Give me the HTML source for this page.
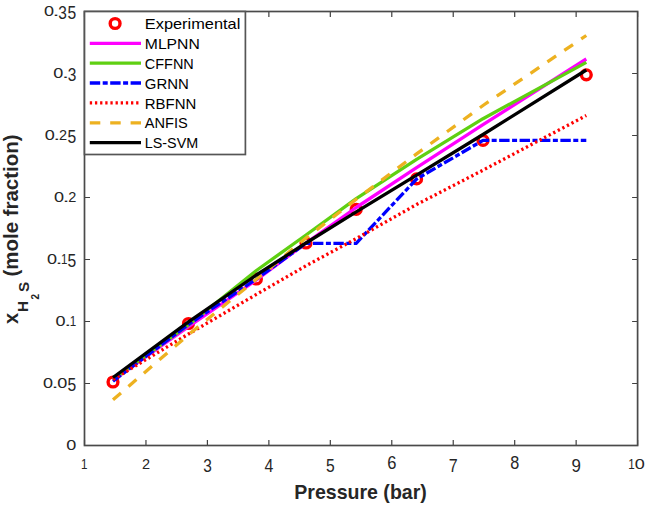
<!DOCTYPE html><html><head><meta charset="utf-8"><style>html,body{margin:0;padding:0;background:#fff;width:646px;height:505px;overflow:hidden}svg{display:block}text{font-family:"Liberation Sans",sans-serif}</style></head><body>
<svg width="646" height="505" viewBox="0 0 646 505">
<rect width="646" height="505" fill="#fff"/>
<circle cx="113.0" cy="382.0" r="4.9" fill="none" stroke="#FF0000" stroke-width="3.4"/><circle cx="188.5" cy="323.5" r="4.9" fill="none" stroke="#FF0000" stroke-width="3.4"/><circle cx="256.4" cy="279.0" r="4.9" fill="none" stroke="#FF0000" stroke-width="3.4"/><circle cx="306.0" cy="243.0" r="4.9" fill="none" stroke="#FF0000" stroke-width="3.4"/><circle cx="356.2" cy="209.4" r="4.9" fill="none" stroke="#FF0000" stroke-width="3.4"/><circle cx="416.6" cy="178.9" r="4.9" fill="none" stroke="#FF0000" stroke-width="3.4"/><circle cx="483.0" cy="140.4" r="4.9" fill="none" stroke="#FF0000" stroke-width="3.4"/><circle cx="586.3" cy="74.8" r="4.9" fill="none" stroke="#FF0000" stroke-width="3.4"/>
<polyline points="113.0,380.0 188.5,326.7 256.4,280.0 306.0,243.0 356.2,207.5 416.6,167.6 483.0,124.7 586.3,59.0" fill="none" stroke="#FF00FF" stroke-width="3.3" stroke-linejoin="round"/>
<polyline points="113.0,379.5 188.5,325.0 256.4,270.5 306.0,235.0 356.2,198.6 416.6,159.3 483.0,118.7 586.3,62.4" fill="none" stroke="#5FD012" stroke-width="3.3" stroke-linejoin="round"/>
<polyline points="113.0,381.2 188.5,324.4 256.4,279.0 306.0,243.3 356.2,243.3 416.6,179.0 483.0,140.4 586.3,140.4" fill="none" stroke="#0000FF" stroke-width="3.3" stroke-linejoin="round" stroke-dasharray="10.4 2.5 5 2.5" stroke-dashoffset="0.53"/>
<polyline points="113.0,379.5 188.5,334.0 256.4,294.4 306.0,265.8 356.2,238.6 416.6,204.5 483.0,170.2 586.3,115.5" fill="none" stroke="#FF0000" stroke-width="3.3" stroke-linejoin="round" stroke-dasharray="2.3 2.85"/>
<polyline points="113.0,399.8 188.5,334.7 256.4,279.3 306.0,238.0 356.2,199.3 416.6,153.9 483.0,105.5 586.3,35.5" fill="none" stroke="#EDB120" stroke-width="3.3" stroke-linejoin="round" stroke-dasharray="10.5 9.9"/>
<polyline points="113.0,377.5 188.5,321.8 256.4,275.0 306.0,243.0 356.2,211.8 416.6,175.2 483.0,134.5 586.3,70.0" fill="none" stroke="#000000" stroke-width="3.3" stroke-linejoin="round"/>
<path d="M84.50 445.5V440.0M84.50 11.5V17.0M145.96 445.5V440.0M145.96 11.5V17.0M207.41 445.5V440.0M207.41 11.5V17.0M268.87 445.5V440.0M268.87 11.5V17.0M330.32 445.5V440.0M330.32 11.5V17.0M391.78 445.5V440.0M391.78 11.5V17.0M453.23 445.5V440.0M453.23 11.5V17.0M514.69 445.5V440.0M514.69 11.5V17.0M576.14 445.5V440.0M576.14 11.5V17.0M637.60 445.5V440.0M637.60 11.5V17.0M84.5 445.50H90.0M637.6 445.50H632.1M84.5 383.50H90.0M637.6 383.50H632.1M84.5 321.50H90.0M637.6 321.50H632.1M84.5 259.50H90.0M637.6 259.50H632.1M84.5 197.50H90.0M637.6 197.50H632.1M84.5 135.50H90.0M637.6 135.50H632.1M84.5 73.50H90.0M637.6 73.50H632.1M84.5 11.50H90.0M637.6 11.50H632.1" stroke="#404040" stroke-width="1.2" fill="none"/>
<rect x="84.5" y="11.5" width="553.1" height="434.0" fill="none" stroke="#4a4a4a" stroke-width="1.7"/>
<g fill="#262626"><text font-size="13.7" transform="translate(81.12 468.70) scale(0.849 1.005)">1</text><text font-size="13.7" transform="translate(141.93 468.70) scale(1.059 1.005)">2</text><text font-size="13.7" transform="translate(203.17 472.30) scale(1.127 1.382)">3</text><text font-size="13.7" transform="translate(264.50 472.30) scale(1.161 1.382)">4</text><text font-size="13.7" transform="translate(326.00 472.30) scale(1.142 1.382)">5</text><text font-size="13.7" transform="translate(387.14 469.00) scale(1.206 1.340)">6</text><text font-size="13.7" transform="translate(448.76 472.30) scale(1.174 1.382)">7</text><text font-size="13.7" transform="translate(510.19 469.00) scale(1.183 1.340)">8</text><text font-size="13.7" transform="translate(571.45 472.30) scale(1.235 1.382)">9</text><text font-size="13.7" transform="translate(628.27 468.70) scale(0.849 1.005)">1</text><text font-size="13.7" transform="translate(634.75 468.70) scale(1.316 1.005)">0</text><text font-size="13.7" transform="translate(66.30 449.80) scale(1.316 1.005)">0</text><text font-size="13.7" transform="translate(43.00 387.80) scale(1.316 1.005)">0</text><text font-size="13.7" transform="translate(51.60 387.80) scale(1.844 1.000)">.</text><text font-size="13.7" transform="translate(57.30 387.80) scale(1.316 1.005)">0</text><text font-size="13.7" transform="translate(67.57 391.40) scale(1.142 1.382)">5</text><text font-size="13.7" transform="translate(55.60 325.80) scale(1.316 1.005)">0</text><text font-size="13.7" transform="translate(64.20 325.80) scale(1.844 1.000)">.</text><text font-size="13.7" transform="translate(69.72 325.80) scale(0.849 1.005)">1</text><text font-size="13.7" transform="translate(46.90 263.80) scale(1.316 1.005)">0</text><text font-size="13.7" transform="translate(55.50 263.80) scale(1.844 1.000)">.</text><text font-size="13.7" transform="translate(61.02 263.80) scale(0.849 1.005)">1</text><text font-size="13.7" transform="translate(67.57 267.40) scale(1.142 1.382)">5</text><text font-size="13.7" transform="translate(54.00 201.80) scale(1.316 1.005)">0</text><text font-size="13.7" transform="translate(62.60 201.80) scale(1.844 1.000)">.</text><text font-size="13.7" transform="translate(68.27 201.80) scale(1.059 1.005)">2</text><text font-size="13.7" transform="translate(44.70 139.80) scale(1.316 1.005)">0</text><text font-size="13.7" transform="translate(53.30 139.80) scale(1.844 1.000)">.</text><text font-size="13.7" transform="translate(58.97 139.80) scale(1.059 1.005)">2</text><text font-size="13.7" transform="translate(67.57 143.40) scale(1.142 1.382)">5</text><text font-size="13.7" transform="translate(53.30 77.80) scale(1.316 1.005)">0</text><text font-size="13.7" transform="translate(61.90 77.80) scale(1.844 1.000)">.</text><text font-size="13.7" transform="translate(67.71 81.40) scale(1.127 1.382)">3</text><text font-size="13.7" transform="translate(43.90 15.80) scale(1.316 1.005)">0</text><text font-size="13.7" transform="translate(52.50 15.80) scale(1.844 1.000)">.</text><text font-size="13.7" transform="translate(58.31 19.40) scale(1.127 1.382)">3</text><text font-size="13.7" transform="translate(67.57 19.40) scale(1.142 1.382)">5</text></g>
<text x="294.3" y="498.6" font-size="19.3" font-weight="bold" fill="#262626" textLength="132.5" lengthAdjust="spacingAndGlyphs">Pressure (bar)</text>
<g transform="rotate(-90)" fill="#262626" font-weight="bold">
<text x="-323.9" y="18.3" font-size="20">x</text>
<text x="-312.0" y="28.4" font-size="15.3">H</text>
<text x="-299.4" y="38.5" font-size="10">2</text>
<text x="-292" y="28.6" font-size="15.3">S</text>
<text x="-276.5" y="18.3" font-size="20" textLength="142" lengthAdjust="spacingAndGlyphs">(mole fraction)</text>
</g>
<rect x="84.5" y="11.5" width="160.9" height="143.0" fill="#fff" stroke="#555" stroke-width="1.7"/>
<circle cx="115.1" cy="23.5" r="4.9" fill="none" stroke="#FF0000" stroke-width="3.4"/>
<text x="144.8" y="29.2" font-size="15" fill="#000" textLength="95.5" lengthAdjust="spacingAndGlyphs">Experimental</text>
<line x1="89.8" y1="43.3" x2="141" y2="43.3" stroke="#FF00FF" stroke-width="3.3"/>
<text x="144.8" y="49.0" font-size="15" fill="#000" textLength="55.0" lengthAdjust="spacingAndGlyphs">MLPNN</text>
<line x1="89.8" y1="63.2" x2="141" y2="63.2" stroke="#5FD012" stroke-width="3.3"/>
<text x="144.8" y="68.9" font-size="15" fill="#000" textLength="49.0" lengthAdjust="spacingAndGlyphs">CFFNN</text>
<line x1="89.8" y1="83.0" x2="141" y2="83.0" stroke="#0000FF" stroke-width="3.3" stroke-dasharray="10.4 2.5 5 2.5"/>
<text x="144.8" y="88.8" font-size="15" fill="#000" textLength="44.0" lengthAdjust="spacingAndGlyphs">GRNN</text>
<line x1="89.8" y1="102.9" x2="141" y2="102.9" stroke="#FF0000" stroke-width="3.3" stroke-dasharray="2.3 2.85"/>
<text x="144.8" y="108.6" font-size="15" fill="#000" textLength="51.5" lengthAdjust="spacingAndGlyphs">RBFNN</text>
<line x1="89.8" y1="122.8" x2="141" y2="122.8" stroke="#EDB120" stroke-width="3.3" stroke-dasharray="10.5 9.9"/>
<text x="144.8" y="128.4" font-size="15" fill="#000" textLength="43.0" lengthAdjust="spacingAndGlyphs">ANFIS</text>
<line x1="89.8" y1="142.6" x2="141" y2="142.6" stroke="#000000" stroke-width="3.3"/>
<text x="144.8" y="148.3" font-size="15" fill="#000" textLength="53.4" lengthAdjust="spacingAndGlyphs">LS-SVM</text>
</svg></body></html>
